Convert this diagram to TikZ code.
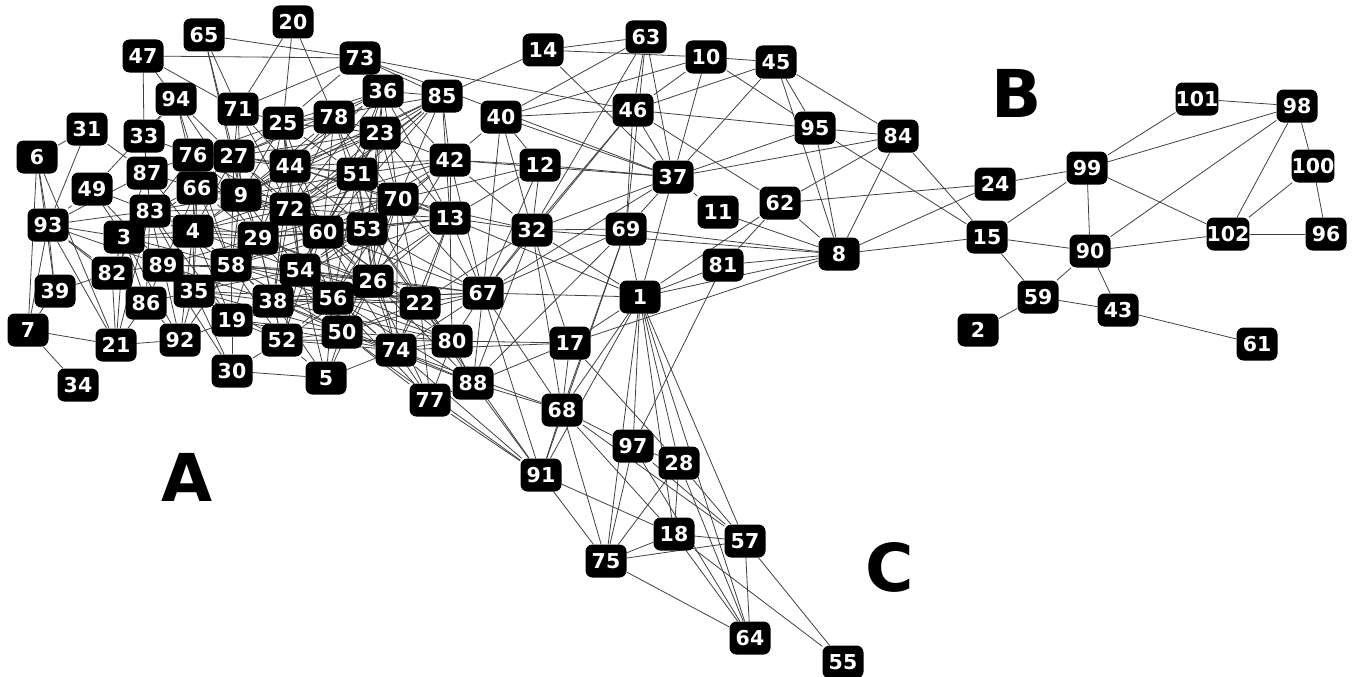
\documentclass[tikz,border=0pt]{standalone}
\usepackage{fontspec}
\setmainfont{DejaVu Sans}
\usetikzlibrary{backgrounds}
\begin{document}
\begin{tikzpicture}[x=1pt,y=-1pt,
  vtx/.style={draw=none, fill=black, text=white, rounded corners=7pt,
    minimum width=41pt, minimum height=33pt, inner sep=0pt,
    font=\fontsize{20.5}{24}\selectfont\bfseries},
  link/.style={draw=black!75, line width=0.8pt},
  panel/.style={inner sep=0pt, font=\fontsize{66}{70}\selectfont\bfseries}]
\useasboundingbox (0,0) rectangle (1354,677);

% vertices
\foreach \i/\x/\y in {
  1/640/297, 2/978/330, 3/124/237, 4/193/231, 5/326/378, 6/37/157, 7/28/330,
  8/839/254, 9/241/195, 10/706/57, 11/718/212, 12/540/165, 13/450/218,
  14/543/50, 15/987/237, 17/570/343, 18/674/534, 19/232/320, 20/293/22,
  21/116/345, 22/420/303, 23/380/133, 24/995/184, 25/283/123, 26/373/281,
  27/234/156, 28/679/463, 29/258/238, 30/232/371, 31/87/129, 32/532/230,
  33/144/136, 34/78/385, 35/194/291, 36/383/91, 37/673/177, 38/273/301,
  39/55/291, 40/501/117, 42/450/160, 43/1118/310, 44/290/166, 45/776/62,
  46/633/110, 47/143/56, 49/92/189, 50/342/332, 51/357/174, 52/282/340,
  53/367/229, 54/300/270, 55/843/662, 56/333/298, 57/745/541, 58/231/265,
  59/1038/297, 60/323/232, 61/1257/344, 62/780/203, 63/646/37, 64/750/638,
  65/204/35, 66/197/188, 67/483/293, 68/562/410, 69/626/229, 70/398/199,
  71/238/109, 72/290/209, 73/360/58, 74/396/350, 75/606/561, 76/193/155,
  77/430/400, 78/334/117, 80/452/341, 81/723/265, 82/112/273, 83/150/211,
  84/898/136, 85/442/96, 86/146/303, 87/147/173, 88/473/383, 89/163/265,
  90/1090/251, 91/541/475, 92/180/340, 93/48/225, 94/176/99, 95/815/128,
  96/1326/234, 97/633/446, 98/1297/106, 99/1087/168, 100/1313/166,
  101/1197/99, 102/1228/234}
  \node[vtx] (n\i) at (\x,\y) {\i};

% cluster letters
\node[panel] (lblA) at (187,477) {A};
\node[panel] (lblB) at (1017,93) {B};
\node[panel] (lblC) at (890,567) {C};

\begin{pgfonlayer}{background}
% left periphery
\foreach \a/\b in {
  6/31, 6/93, 6/7, 6/39, 6/21, 31/93, 31/87,
  47/73, 47/94, 47/71, 47/33, 65/73, 65/71, 65/27, 65/9,
  20/71, 20/25, 20/78, 73/71, 73/25, 73/36, 73/85, 73/46, 73/37,
  94/33, 94/76, 94/27, 94/9, 94/49, 94/66,
  71/27, 71/9, 71/44, 71/72, 71/25, 33/87, 33/83, 33/76,
  87/93, 87/83, 87/3, 87/66, 87/4, 87/76, 49/93, 49/83, 49/3, 49/89,
  93/83, 93/3, 93/89, 93/82, 93/21, 93/7, 93/39, 93/86,
  39/7, 39/82, 7/21, 7/34, 21/82, 21/86, 21/92, 21/3, 21/83,
  82/3, 82/89, 86/89, 86/35, 86/92, 86/3, 92/35, 92/19, 92/89, 92/4, 92/3,
  30/19, 30/5, 30/52, 30/35, 30/89}
  \draw[link] (n\a) -- (n\b);
% dense core
\foreach \a/\b in {
  36/85, 36/23, 36/25, 36/78, 36/44, 36/51, 36/70, 36/42, 36/13, 36/72, 36/9, 36/60, 36/53, 36/27,
  85/14, 85/23, 85/42, 85/51, 85/70, 85/44, 85/72, 85/9, 85/25, 85/13, 85/60, 85/29,
  23/78, 23/25, 23/51, 23/70, 23/42, 23/44, 23/72, 23/60, 23/53, 23/13, 23/54, 23/26, 23/9, 23/27,
  78/25, 78/44, 78/51, 78/72, 78/9, 78/27, 78/70, 78/60, 78/53,
  25/44, 25/27, 25/72, 25/51, 25/9, 25/29, 25/60, 25/54, 25/76,
  42/40, 42/70, 42/51, 42/13, 42/32, 42/67, 42/53, 42/72, 42/44, 42/60, 42/12, 42/26,
  76/27, 76/66, 76/9, 76/4, 76/83, 76/72, 76/44, 76/29, 76/58,
  27/44, 27/9, 27/66, 27/72, 27/29, 27/60, 27/51, 27/4, 27/58,
  44/72, 44/51, 44/9, 44/60, 44/29, 44/53, 44/70, 44/54, 44/13, 44/38, 44/4,
  51/72, 51/70, 51/60, 51/53, 51/13, 51/29, 51/9, 51/54, 51/26, 51/56, 51/22, 51/4,
  66/9, 66/4, 66/83, 66/72, 66/29, 66/58, 66/3, 66/89, 66/35,
  9/72, 9/4, 9/29, 9/58, 9/60, 9/54, 9/83, 9/70, 9/53,
  72/29, 72/60, 72/53, 72/70, 72/13, 72/54, 72/58, 72/38, 72/56, 72/26, 72/4, 72/22, 72/83,
  70/60, 70/53, 70/13, 70/26, 70/54, 70/22, 70/56, 70/29, 70/12, 70/32, 70/67, 70/74, 70/50,
  13/53, 13/60, 13/26, 13/22, 13/67, 13/32, 13/12, 13/54, 13/56, 13/74, 13/80, 13/29,
  83/3, 83/4, 83/89, 83/58, 83/29, 83/35, 83/82, 83/86, 83/19,
  3/89, 3/4, 3/35, 3/58, 3/29,
  4/29, 4/58, 4/89, 4/35, 4/54, 4/38, 4/19, 4/60,
  29/58, 29/60, 29/54, 29/38, 29/53, 29/56, 29/35, 29/19, 29/89, 29/26, 29/22, 29/52, 29/50,
  60/53, 60/54, 60/26, 60/56, 60/38, 60/58, 60/22, 60/50, 60/74, 60/67, 60/52,
  53/54, 53/26, 53/56, 53/22, 53/67, 53/38, 53/74, 53/80, 53/50, 53/58,
  89/58, 89/35, 89/19, 89/38, 89/54,
  58/35, 58/54, 58/38, 58/19, 58/56, 58/26, 58/52, 58/92, 58/50, 58/22,
  54/38, 54/26, 54/56, 54/22, 54/50, 54/52, 54/74, 54/67, 54/19, 54/5, 54/80,
  26/56, 26/22, 26/67, 26/74, 26/80, 26/50, 26/88, 26/38, 26/52, 26/5, 26/77,
  35/38, 35/19, 35/56, 35/52, 35/54, 35/50,
  38/56, 38/19, 38/52, 38/50, 38/22, 38/74, 38/67, 38/5, 38/80,
  56/22, 56/50, 56/74, 56/80, 56/67, 56/52, 56/88, 56/19, 56/77, 56/5,
  22/67, 22/74, 22/80, 22/88, 22/50, 22/77, 22/32, 22/91,
  19/52, 19/50, 19/74, 52/50, 52/5, 52/74, 52/80,
  50/74, 50/5, 50/80, 50/88, 50/67, 50/91, 50/77,
  74/80, 74/88, 74/77, 74/67, 74/5, 74/91, 74/68, 74/17}
  \draw[link] (n\a) -- (n\b);
% lower tail (cluster C)
\foreach \a/\b in {
  77/80, 77/88, 77/91, 88/80, 88/67, 88/68, 88/91, 88/17, 80/17, 80/67,
  17/1, 17/68, 17/28, 17/32, 17/8,
  67/1, 67/32, 67/12, 67/91, 67/68, 67/46, 67/40, 67/69, 67/37,
  68/91, 68/75, 68/97, 68/18, 68/57, 68/1, 68/69, 68/32, 91/75, 91/18, 91/1,
  1/69, 1/37, 1/8, 1/81, 1/62, 1/97, 1/75, 1/18, 1/28, 1/57, 1/64, 1/32, 1/13,
  97/75, 97/28, 97/81, 97/64, 97/57, 28/18, 28/75, 28/64, 28/57,
  18/75, 18/57, 18/64, 18/55, 57/75, 57/64, 57/55, 75/64}
  \draw[link] (n\a) -- (n\b);
% upper middle
\foreach \a/\b in {
  14/63, 14/10, 14/37, 63/46, 63/37, 63/32, 63/40, 63/69,
  10/45, 10/46, 10/37, 10/95, 10/40, 45/95, 45/84, 45/37, 45/8, 45/46,
  40/46, 40/32, 40/12, 40/37, 46/37, 46/69, 46/32, 46/95, 46/62,
  95/84, 95/8, 95/15, 95/37, 84/8, 84/62, 84/15, 84/37,
  12/32, 12/37, 37/11, 37/69, 37/32, 37/42, 11/8, 62/24, 62/8, 62/81,
  69/8, 69/32, 69/91, 69/88, 81/8, 32/8, 32/88, 8/24, 8/15}
  \draw[link] (n\a) -- (n\b);
% cluster B
\foreach \a/\b in {
  24/99, 15/99, 15/90, 15/59, 99/101, 99/98, 99/102, 99/90, 101/98,
  98/90, 98/102, 98/100, 100/102, 100/96, 102/96, 102/90,
  90/59, 90/43, 59/43, 59/2, 43/61}
  \draw[link] (n\a) -- (n\b);
\end{pgfonlayer}
\end{tikzpicture}
\end{document}
